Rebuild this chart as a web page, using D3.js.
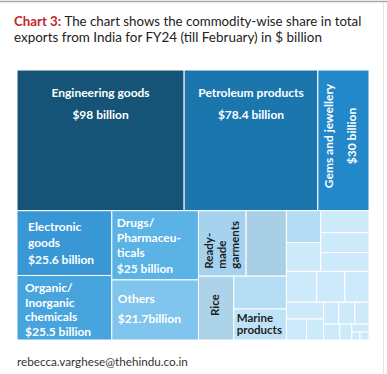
<!DOCTYPE html>
<html>
<head>
<meta charset="utf-8">
<script src="https://cdn.jsdelivr.net/npm/d3@7/dist/d3.min.js"></script>
<style>
  html, body { margin: 0; padding: 0; background: #fff; }
  svg { display: block; }
</style>
</head>
<body>
<div id="chart"></div>
<script>
// commodity-wise export values, $ billion (FY24 till Feb)
const topItems = ["Engineering goods", "Petroleum products", "Gems and jewellery"];
const topValues = [98, 78.4, 30];

const midItems = ["Electronic goods", "Organic/Inorganic chemicals", "Drugs/Pharmaceuticals", "Others"];
const midValues = [25.6, 25.5, 25, 21.7];

const smallItems = ["Ready-made garments", "Cotton yarn/fabs", "Rice", "Plastic and linoleum", "Marine products"];
const smallValues = [13, 11, 9.4, 7.2, 6.8];

// the remaining unlabelled commodities
const restValues = [4.56, 4.13, 4.42, 4.0, 3.8, 3.9, 3.6, 3.1, 2.6, 1.76, 1.5,
                    1.38, 1.47, 1.29, 1.07, 0.8, 0.57, 0.27, 0.3];

const topColors = ["#155477", "#1b76ae", "#2388c9"];
const midColors = ["#3997d5", "#48a4dc", "#5ab2e5", "#7fc5ed"];
const smallColors = ["#a5d3ef", "#a8cfe6", "#acd3ea", "#b6ddf4", "#bee2f6"];
const restColor = "#cdeafb";

const W = 387, H = 374;
const margin = {left: 17, top: 70, right: 18, bottom: 34};

const svg = d3.select("#chart").append("svg")
    .attr("width", W)
    .attr("height", H);

// card frame
svg.append("line").attr("x1", 0).attr("x2", W).attr("y1", 1.5).attr("y2", 1.5)
    .attr("stroke", "#a8a8a8").attr("stroke-width", 1.5);
svg.append("line").attr("x1", 383.5).attr("x2", 383.5).attr("y1", 2).attr("y2", H)
    .attr("stroke", "#e2e2e2");

// title
function fitWidth(sel, w) {
    let tw = sel.node().getComputedTextLength();
    let x = +sel.attr("x");
    sel.attr("transform", "translate(" + x + ",0) scale(" + (w / tw) + ",1) translate(" + (-x) + ",0)");
}
let t1 = svg.append("text").attr("x", 14).attr("y", 26)
    .style("font-family", "Lato, 'Open Sans', sans-serif").style("font-size", "13.5px").attr("fill", "#222");
t1.append("tspan").attr("fill", "#c4262e").style("font-weight", "bold").text("Chart 3: ");
t1.append("tspan").text("The chart shows the commodity-wise share in total");
fitWidth(t1, 348);
let t2 = svg.append("text").attr("x", 14).attr("y", 42)
    .style("font-family", "Lato, 'Open Sans', sans-serif").style("font-size", "13.5px").attr("fill", "#222")
    .text("exports from India for FY24 (till February) in $ billion");
fitWidth(t2, 308);

// hierarchy: dir "row" = children side by side, "col" = stacked
let li = 0;
const leaf = (name, value, color) => ({name: name, value: value, color: color});
const top3 = topItems.map((d, i) => leaf(d, topValues[i], topColors[i]));
const mid = midItems.map((d, i) => leaf(d, midValues[i], midColors[i]));
const sm = smallItems.map((d, i) => leaf(d, smallValues[i], smallColors[i]));
const r = restValues.map((v, i) => leaf("Other commodity " + (i + 1), v, i === 0 ? "#b4dcf4" : restColor));
const grp = (dir, children) => ({dir: dir, children: children});

const tree = grp("col", [
    grp("row", top3),
    grp("row", [
        grp("col", [mid[0], mid[1]]),
        grp("col", [mid[2], mid[3]]),
        grp("col", [grp("row", [sm[0], sm[1]]), grp("row", [sm[2], grp("col", [sm[3], sm[4]])])]),
        grp("col", [
            grp("row", [grp("col", [r[0], r[1]]), grp("col", [r[2], r[3], r[4]])]),
            grp("row", [r[5], r[6], r[7]]),
            grp("row", [
                grp("col", [r[8], grp("row", [r[9], r[10]])]),
                grp("col", [
                    grp("row", [r[11], r[12], r[13]]),
                    grp("row", [r[14], r[15], grp("col", [r[16], grp("row", [r[17], r[18]])])])
                ])
            ])
        ])
    ])
]);

function tile(node, x0, y0, x1, y1) {
    if (node.data.dir === "row") d3.treemapDice(node, x0, y0, x1, y1);
    else d3.treemapSlice(node, x0, y0, x1, y1);
}

const root = d3.hierarchy(tree).sum(d => d.value || 0);
d3.treemap()
    .size([W - margin.left - margin.right, H - margin.top - margin.bottom])
    .tile(tile)(root);

const g = svg.append("g").attr("transform", "translate(" + margin.left + "," + margin.top + ")");

g.selectAll("rect.cell")
    .data(root.leaves())
    .enter()
    .append("rect")
    .attr("class", "cell")
    .attr("x", d => d.x0)
    .attr("y", d => d.y0)
    .attr("width", d => d.x1 - d.x0)
    .attr("height", d => d.y1 - d.y0)
    .attr("fill", d => d.data.color)
    .attr("stroke", "#fff")
    .attr("stroke-width", 1);

// labels: lines, placement inside cell
const labels = {
    "Engineering goods": {lines: ["Engineering goods", "$98 billion"], mode: "center", dy: [27, 49], size: 12, fill: "#fff"},
    "Petroleum products": {lines: ["Petroleum products", "$78.4 billion"], mode: "center", dy: [27, 49], size: 12, fill: "#fff"},
    "Gems and jewellery": {lines: ["Gems and jewellery", "$30 billion"], mode: "vcenter", dx: [-10, 13], cy: 66, size: 12, fill: "#fff"},
    "Electronic goods": {lines: ["Electronic", "goods", "$25.6 billion"], mode: "left", dx: 11, dy: [20, 36, 53], size: 12, fill: "#fff"},
    "Organic/Inorganic chemicals": {lines: ["Organic/", "Inorganic", "chemicals", "$25.5 billion"], mode: "left", dx: 8, dy: [17, 31.5, 46, 60.5], size: 12, fill: "#fff"},
    "Drugs/Pharmaceuticals": {lines: ["Drugs/", "Pharmaceu-", "ticals", "$25 billion"], mode: "left", dx: 5, dy: [16, 31, 46, 62], size: 12, fill: "#fff"},
    "Others": {lines: ["Others", "$21.7billion"], mode: "left", dx: 6, dy: [23, 43], size: 12, fill: "#fff"},
    "Ready-made garments": {lines: ["Ready-", "made", "garments"], mode: "vbottom", dx: [15, 28, 41], by: 58, size: 11.5, fill: "#1e1e1e"},
    "Rice": {lines: ["Rice"], mode: "vcenter", dx: [4], cy: 29, size: 11.5, fill: "#1e1e1e"},
    "Marine products": {lines: ["Marine", "products"], mode: "left", dx: 3, dy: [13, 25], size: 11.5, fill: "#1e1e1e"}
};

root.leaves().forEach(d => {
    let lb = labels[d.data.name];
    if (!lb) return;
    let cx = (d.x0 + d.x1) / 2;
    lb.lines.forEach((line, i) => {
        let t = g.append("text")
            .style("font-family", "Lato, 'Open Sans', sans-serif")
            .style("font-weight", "bold")
            .style("font-size", lb.size + "px")
            .attr("fill", lb.fill)
            .text(line);
        if (lb.mode === "center") {
            t.attr("x", cx).attr("y", d.y0 + lb.dy[i]).attr("text-anchor", "middle");
        } else if (lb.mode === "left") {
            t.attr("x", d.x0 + lb.dx).attr("y", d.y0 + lb.dy[i]);
        } else if (lb.mode === "vcenter") {
            let x = lb.lines.length > 1 ? cx + lb.dx[i] : d.x0 + 17 + lb.dx[i];
            t.attr("text-anchor", "middle")
                .attr("transform", "translate(" + x + "," + (d.y0 + lb.cy) + ") rotate(-90)");
        } else if (lb.mode === "vbottom") {
            t.attr("text-anchor", "start")
                .attr("transform", "translate(" + (d.x0 + lb.dx[i]) + "," + (d.y0 + lb.by) + ") rotate(-90)");
        }
    });
});

// footer
let ft = svg.append("text").attr("x", 17).attr("y", 366)
    .style("font-family", "Lato, 'Open Sans', sans-serif").style("font-size", "11px").attr("fill", "#333")
    .text("rebecca.varghese@thehindu.co.in");
fitWidth(ft, 171);
</script>
</body>
</html>
